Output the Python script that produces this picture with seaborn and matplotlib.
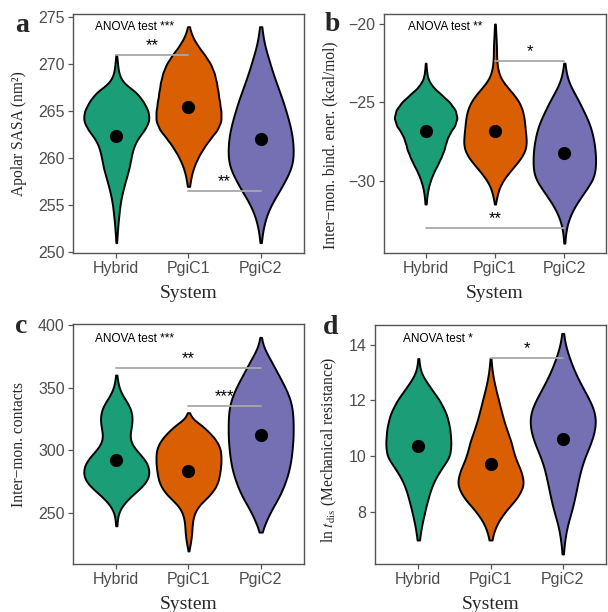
import numpy as np
import pandas as pd
import seaborn as sns
import matplotlib.pyplot as plt

systems = ['Hybrid', 'PgiC1', 'PgiC2']
palette = ['#1B9E77', '#D95F02', '#7570B3']

# panel a: apolar SASA (nm2) -- counts
sasa_levels = [251, 252, 253, 254, 255, 256, 257, 258, 259, 260, 261, 262,
               263, 264, 265, 266, 267, 268, 269, 270, 271, 272, 273, 274]
sasa_hybrid = [1, 3, 5, 8, 11, 16, 23, 31, 39, 44, 50, 62,
               85, 100, 97, 82, 62, 20, 7, 4, 1, 0, 0, 0]
sasa_pgic1 = [0, 0, 0, 0, 0, 0, 3, 7, 14, 25, 40, 58,
              80, 91, 90, 86, 82, 78, 72, 62, 45, 25, 10, 2]
sasa_pgic2 = [1, 3, 6, 11, 18, 28, 38, 47, 55, 58, 58, 57,
              54, 50, 45, 40, 34, 28, 22, 17, 12, 7, 4, 2]
sasa_means = [262.4, 265.4, 262.0]
sasa_sig = [(0, 1, 271.0, '**'), (1, 2, 256.5, '**')]

# panel b: inter-monomer binding energy (kcal/mol)
ener_levels = [-34, -33.5, -33, -32.5, -32, -31.5, -31, -30.5, -30, -29.5,
               -29, -28.5, -28, -27.5, -27, -26.5, -26, -25.5, -25, -24.5,
               -24, -23.5, -23, -22.5, -22, -21.5, -21, -20.5, -20]
ener_hybrid = [0, 0, 0, 0, 0, 2, 4, 8, 15, 25,
               38, 50, 60, 66, 76, 94, 102, 96, 78, 50,
               22, 7, 3, 1, 0, 0, 0, 0, 0]
ener_pgic1 = [0, 0, 0, 0, 0, 1, 5, 10, 20, 35,
              52, 68, 78, 80, 78, 76, 74, 70, 62, 48,
              30, 15, 8, 5, 4, 4, 3, 2, 1]
ener_pgic2 = [1, 2, 4, 8, 14, 22, 32, 42, 52, 57,
              58, 58, 57, 55, 52, 48, 42, 35, 28, 20,
              12, 6, 3, 1, 0, 0, 0, 0, 0]
ener_means = [-26.82, -26.82, -28.27]
ener_sig = [(1, 2, -22.37, '*'), (0, 2, -33.03, '**')]

# panel c: inter-monomer contacts
cont_levels = [220, 225, 230, 235, 240, 245, 250, 255, 260, 265, 270, 275,
               280, 285, 290, 295, 300, 305, 310, 315, 320, 325, 330, 335,
               340, 345, 350, 355, 360, 365, 370, 375, 380, 385, 390]
cont_hybrid = [0, 0, 0, 0, 2, 3, 6, 15, 30, 50, 72, 90,
               98, 98, 92, 78, 60, 46, 40, 42, 46, 48, 46, 40,
               28, 16, 8, 4, 2, 0, 0, 0, 0, 0, 0]
cont_pgic1 = [1, 5, 8, 10, 11, 13, 18, 28, 46, 66, 80, 89,
              93, 96, 98, 98, 97, 90, 78, 60, 40, 12, 2, 0,
              0, 0, 0, 0, 0, 0, 0, 0, 0, 0, 0]
cont_pgic2 = [0, 0, 0, 2, 6, 11, 16, 22, 29, 35, 40, 44,
              48, 51, 53, 55, 56, 57, 58, 58, 58, 58, 57, 56,
              53, 49, 44, 38, 32, 26, 20, 14, 7, 3, 1]
cont_means = [292, 284, 312]
cont_sig = [(0, 2, 365.4, '**'), (1, 2, 335.4, '***')]

# panel d: ln t_dis (mechanical resistance)
mech_levels = [6.5, 7, 7.5, 8, 8.5, 9, 9.5, 10, 10.5, 11, 11.5, 12,
               12.5, 13, 13.5, 14, 14.4]
mech_hybrid = [0, 3, 9, 18, 28, 40, 62, 93, 94, 91, 82, 62, 32, 5, 1, 0, 0]
mech_pgic1 = [0, 3, 14, 40, 80, 102, 90, 70, 62, 46, 34, 24, 13, 5, 1, 0, 0]
mech_pgic2 = [1, 5, 10, 22, 30, 37, 44, 55, 72, 82, 84, 68, 48, 30, 17, 5, 1]
mech_means = [10.36, 9.71, 10.63]
mech_sig = [(1, 2, 13.51, '*')]

anova_labels = ['ANOVA test ***', 'ANOVA test **', 'ANOVA test ***', 'ANOVA test *']


def make_frame(levels, counts):
    parts = []
    for name, c in zip(systems, counts):
        parts.append(pd.DataFrame({'System': name, 'value': np.repeat(levels, c)}))
    return pd.concat(parts, ignore_index=True)


sns.set_theme(style='white')
plt.rcParams['font.family'] = ['Liberation Sans', 'DejaVu Sans']
plt.rcParams['mathtext.fontset'] = 'stix'

fig = plt.figure(figsize=(6.08, 6.12), dpi=100)

panels = [
    dict(pos=[0.120, 0.5866, 0.380, 0.3905], levels=sasa_levels, bw=0.65,
         counts=[sasa_hybrid, sasa_pgic1, sasa_pgic2], means=sasa_means, sig=sasa_sig,
         ylabel='Apolar SASA (nm²)', ylabel_xy=(-0.197, 0.5),
         ylim=(249.9, 275.35), yticks=[250, 255, 260, 265, 270, 275],
         letter='a', letter_xy=(15, 31.7), anova_xy=(0.095, 0.944)),
    dict(pos=[0.6316, 0.5866, 0.365, 0.3905], levels=ener_levels, bw=0.65,
         counts=[ener_hybrid, ener_pgic1, ener_pgic2], means=ener_means, sig=ener_sig,
         ylabel='Inter\u2212mon. bind. ener. (kcal/mol)', ylabel_xy=(-0.207, 0.45),
         ylim=(-34.63, -19.36), yticks=[-30, -25, -20],
         letter='b', letter_xy=(325, 31), anova_xy=(0.11, 0.947)),
    dict(pos=[0.120, 0.0784, 0.380, 0.392], levels=cont_levels, bw=0.62,
         counts=[cont_hybrid, cont_pgic1, cont_pgic2], means=cont_means, sig=cont_sig,
         ylabel='Inter\u2212mon. contacts', ylabel_xy=(-0.197, 0.5),
         ylim=(209.6, 400.5), yticks=[250, 300, 350, 400],
         letter='c', letter_xy=(15, 332.7), anova_xy=(0.095, 0.94)),
    dict(pos=[0.6168, 0.0784, 0.380, 0.3905], levels=mech_levels, bw=0.9,
         counts=[mech_hybrid, mech_pgic1, mech_pgic2], means=mech_means, sig=mech_sig,
         ylabel=r'ln $t_{\mathrm{dis}}$ (Mechanical resistance)', ylabel_xy=(-0.156, 0.48),
         ylim=(6.14, 14.7), yticks=[8, 10, 12, 14],
         letter='d', letter_xy=(323, 334), anova_xy=(0.123, 0.94)),
]

for p, anova in zip(panels, anova_labels):
    ax = fig.add_axes(p['pos'])
    df = make_frame(p['levels'], p['counts'])
    sns.violinplot(data=df, x='System', y='value', hue='System', order=systems,
                   hue_order=systems, palette=palette, saturation=1, inner=None,
                   cut=0, width=0.9, bw_adjust=p['bw'], linewidth=1.4,
                   linecolor='black', legend=False, ax=ax)
    sns.stripplot(x=systems, y=p['means'], order=systems, jitter=False,
                  color='black', size=9.5, zorder=5, ax=ax)

    for i, j, y, lab in p['sig']:
        ax.plot([i, j], [y, y], color='#A8A8A8', lw=1.3, zorder=4)
        ax.annotate(lab, xy=((i + j) / 2, y), xytext=(0, 1.5), textcoords='offset points',
                    ha='center', va='bottom', fontsize=12, color='black')

    ax.text(p['anova_xy'][0], p['anova_xy'][1], anova, transform=ax.transAxes,
            ha='left', va='center', fontsize=8.5, color='black')

    ax.set_xlim(-0.6, 2.6)
    ax.set_ylim(*p['ylim'])
    ax.set_yticks(p['yticks'])
    ax.set_yticklabels([str(t).replace('-', '\u2212') for t in p['yticks']])
    ax.set_xlabel('System', fontsize=14, family='Liberation Serif', labelpad=6)
    ax.set_ylabel(p['ylabel'], fontsize=11.2, family='Liberation Serif')
    ax.yaxis.set_label_coords(*p['ylabel_xy'])
    for s in ax.spines.values():
        s.set_visible(True)
        s.set_color('#555555')
        s.set_linewidth(1.0)
    ax.tick_params(axis='both', length=3.5, width=0.9, color='#555555',
                   labelcolor='#4D4D4D', labelsize=11.5, pad=2.5, bottom=True, left=True)

    fig.text(p['letter_xy'][0] / 608, 1 - p['letter_xy'][1] / 612, p['letter'],
             fontsize=20, fontweight='bold', family='Liberation Serif',
             ha='left', va='baseline')

fig.savefig('out.png', dpi=100)
